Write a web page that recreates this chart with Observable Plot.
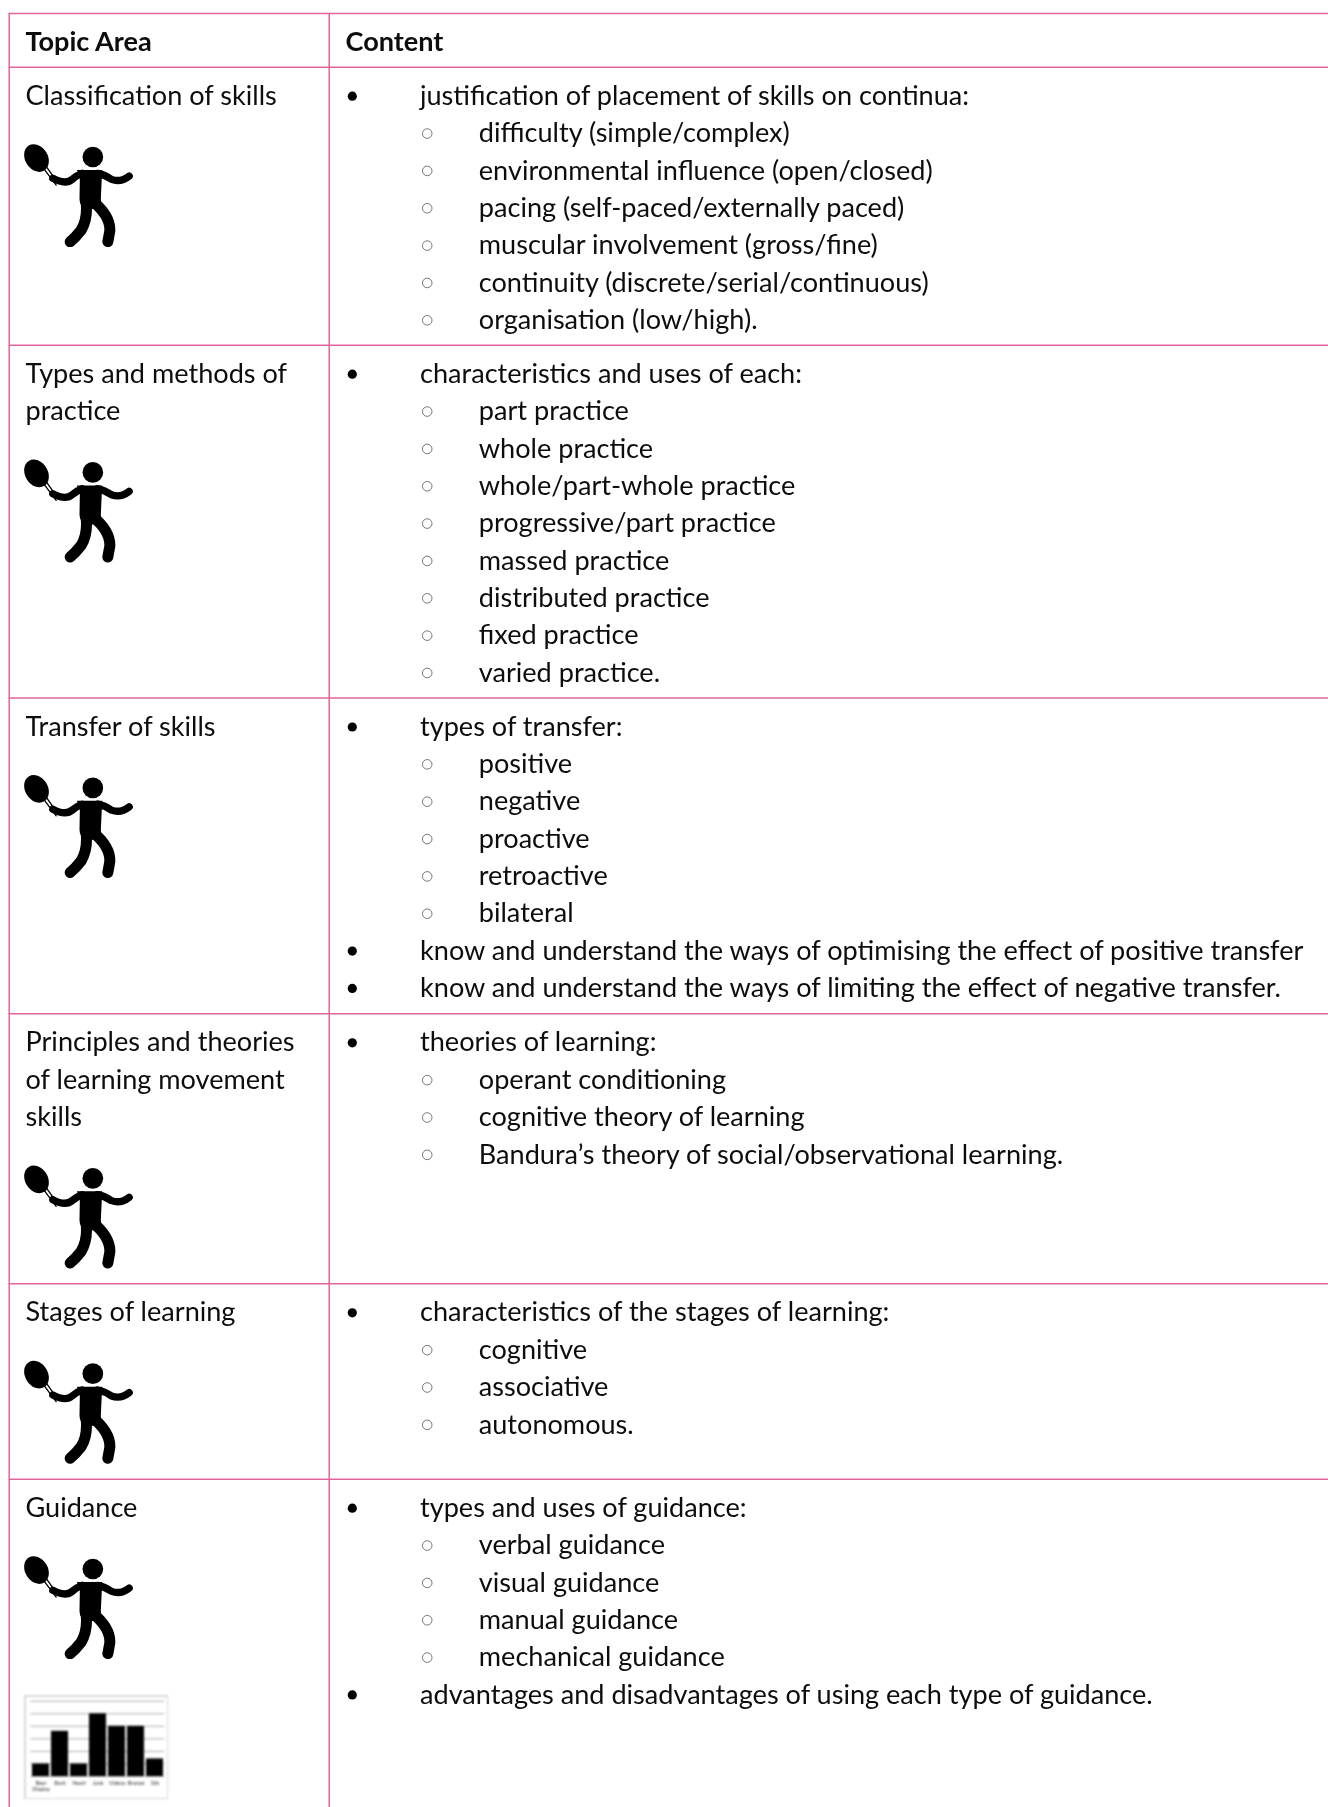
<!DOCTYPE html>
<html>
<head>
<meta charset="utf-8">
<script src="https://cdn.jsdelivr.net/npm/d3@7"></script>
<script src="https://cdn.jsdelivr.net/npm/@observablehq/plot@0.6"></script>
<style>
html,body{margin:0;padding:0;background:#fff;overflow:hidden}
#page{position:relative;width:1328px;height:1807px}
#page svg{display:block}
#main{filter:blur(0.3px)}
#inset{position:absolute;left:24px;top:1695px;filter:blur(0.8px)}
</style>
</head>
<body>
<div id="page"><div id="main"></div><div id="inset"></div></div>
<script>
// ---------- table text ----------
const headers = ["Topic Area", "Content"];
const topics = [
  ["Classification of skills"],
  ["Types and methods of", "practice"],
  ["Transfer of skills"],
  ["Principles and theories", "of learning movement", "skills"],
  ["Stages of learning"],
  ["Guidance"]
];
const classificationLines = [
  [1, "justification of placement of skills on continua:"],
  [2, "difficulty (simple/complex)"],
  [2, "environmental influence (open/closed)"],
  [2, "pacing (self-paced/externally paced)"],
  [2, "muscular involvement (gross/fine)"],
  [2, "continuity (discrete/serial/continuous)"],
  [2, "organisation (low/high)."]
];
const practiceLines = [
  [1, "characteristics and uses of each:"],
  [2, "part practice"],
  [2, "whole practice"],
  [2, "whole/part-whole practice"],
  [2, "progressive/part practice"],
  [2, "massed practice"],
  [2, "distributed practice"],
  [2, "fixed practice"],
  [2, "varied practice."]
];
const transferLines = [
  [1, "types of transfer:"],
  [2, "positive"],
  [2, "negative"],
  [2, "proactive"],
  [2, "retroactive"],
  [2, "bilateral"],
  [1, "know and understand the ways of optimising the effect of positive transfer"],
  [1, "know and understand the ways of limiting the effect of negative transfer."]
];
const theoryLines = [
  [1, "theories of learning:"],
  [2, "operant conditioning"],
  [2, "cognitive theory of learning"],
  [2, "Bandura\u2019s theory of social/observational learning."]
];
const stagesLines = [
  [1, "characteristics of the stages of learning:"],
  [2, "cognitive"],
  [2, "associative"],
  [2, "autonomous."]
];
const guidanceLines = [
  [1, "types and uses of guidance:"],
  [2, "verbal guidance"],
  [2, "visual guidance"],
  [2, "manual guidance"],
  [2, "mechanical guidance"],
  [1, "advantages and disadvantages of using each type of guidance."]
];
const contentRows = [classificationLines, practiceLines, transferLines, theoryLines, stagesLines, guidanceLines];

// ---------- small bar-chart pictogram ----------
const barLabels = ["Bear\nDisplay", "Barb", "Heart", "Junk", "Videos", "Bronze", "Silk"];
const barValues = [1, 3.6, 1, 5, 4, 4, 1.4];

// ---------- layout ----------
const W = 1328, H = 1807;
const PINK = "#e3649d", INK = "#0d0d0d", FONT = "Lato, sans-serif", SIZE = 27.1;
const LEFT = 8.7, DIVIDER = 328.7, TOP = 13;
const rowTops = [66.7, 344.7, 697.5, 1013.3, 1283.3, 1478.7];
const LINE = 37.35, FIRST = 29;
const X_TOPIC = 25, X_HEAD2 = 345, X_BULLET = 351.8, X_TEXT = 419.5, X_RING = 426.7, X_SUB = 478.3;

const lineY = (row, i) => rowTops[row] + FIRST + i * LINE;

const topicRows = topics.flatMap((lines, row) => lines.map((text, i) => ({text, y: lineY(row, i)})));
const contentRowsFlat = contentRows.flatMap((lines, row) =>
  lines.map(([level, text], i) => ({level, text, y: lineY(row, i)})));
const icons = topics.map((lines, row) => ({y: rowTops[row] + 128.5 + (lines.length - 1) * LINE}));

const iconSvg = `<svg xmlns="http://www.w3.org/2000/svg" viewBox="0 0 390 360">
<defs><filter id="b" x="-5%" y="-5%" width="110%" height="110%"><feGaussianBlur stdDeviation="1.6"/></filter></defs>
<g filter="url(#b)" fill="none" stroke="#000" stroke-linecap="round" stroke-linejoin="round">
<ellipse cx="63" cy="67" rx="34" ry="44" transform="rotate(-32 63 67)" fill="#000" stroke="none"/>
<path d="M82 95L122 148M92 92L126 140" stroke-width="4"/>
<circle cx="232" cy="64" r="31" fill="#000" stroke="none"/>
<path d="M184 103H260L256 190Q260 216 240 220L215 220Q192 214 192 190L193 130Q191 115 184 103Z" fill="#000" stroke="none"/>
<path d="M112 128Q150 148 170 131Q185 118 200 113" stroke-width="22"/>
<path d="M246 113Q270 118 288 131Q316 141 341 121" stroke-width="22"/>
<path d="M212 200Q217 250 197 283Q180 305 164 318" stroke-width="33"/>
<path d="M230 195Q285 240 283 285L277 318" stroke-width="33"/>
</g></svg>`;
const iconSrc = "data:image/svg+xml;charset=utf-8," + encodeURIComponent(iconSvg);

const mainPlot = Plot.plot({
  width: W, height: H,
  margin: 0,
  x: {domain: [0, W], range: [0, W], axis: null},
  y: {domain: [0, H], range: [0, H], axis: null},
  style: {background: "#fff", fontFamily: FONT},
  marks: [
    Plot.ruleY([TOP, ...rowTops], {y: d => d, x1: () => LEFT, x2: () => W, stroke: PINK, strokeWidth: 1.5}),
    Plot.ruleX([LEFT, DIVIDER], {x: d => d, y1: () => TOP, y2: () => H, stroke: PINK, strokeWidth: 1.5}),
    Plot.text(headers, {
      x: (d, i) => (i ? X_HEAD2 : X_TOPIC), y: () => (TOP + rowTops[0]) / 2 + 1.5,
      text: d => d, textAnchor: "start", fontWeight: 700, fontSize: SIZE, fontFamily: FONT, fill: INK
    }),
    Plot.text(topicRows, {
      x: () => X_TOPIC, y: "y", text: "text", textAnchor: "start",
      fontSize: SIZE, fontFamily: FONT, fill: INK
    }),
    Plot.text(contentRowsFlat, {
      x: d => (d.level === 1 ? X_TEXT : X_SUB), y: "y", text: "text", textAnchor: "start",
      fontSize: SIZE, fontFamily: FONT, fill: INK
    }),
    Plot.dot(contentRowsFlat.filter(d => d.level === 1), {
      x: () => X_BULLET, y: "y", r: 4.6, fill: "#000", stroke: "none"
    }),
    Plot.dot(contentRowsFlat.filter(d => d.level === 2), {
      x: () => X_RING, y: "y", r: 4.8, fill: "#fff", stroke: "#777", strokeWidth: 1
    }),
    Plot.image(icons, {x: () => 80, y: "y", width: 130, height: 120, src: () => iconSrc})
  ]
});
document.getElementById("main").appendChild(mainPlot);

const insetPlot = Plot.plot({
  width: 144, height: 104,
  marginLeft: 7.7, marginRight: 5.3, marginTop: 5.7, marginBottom: 23,
  x: {domain: barLabels, paddingInner: 0.13, paddingOuter: 0, axis: null},
  y: {domain: [0, 6], axis: null},
  style: {background: "#fff", fontFamily: FONT},
  marks: [
    Plot.frame({stroke: "#ccc", strokeWidth: 1.5, insetLeft: -7.2, insetRight: -4.8, insetTop: -5.2, insetBottom: -22.5}),
    Plot.ruleY([0, 1, 2, 3, 4, 5, 6], {stroke: "#aaa", strokeWidth: 1, insetLeft: -1.5, insetRight: -1.5}),
    Plot.barY(barValues, {x: (d, i) => barLabels[i], y: d => d, fill: "#000"}),
    Plot.axisX({tickSize: 0, tickPadding: 5, fontSize: 5.5, label: null, fill: "#333"})
  ]
});
document.getElementById("inset").appendChild(insetPlot);
</script>
</body>
</html>
